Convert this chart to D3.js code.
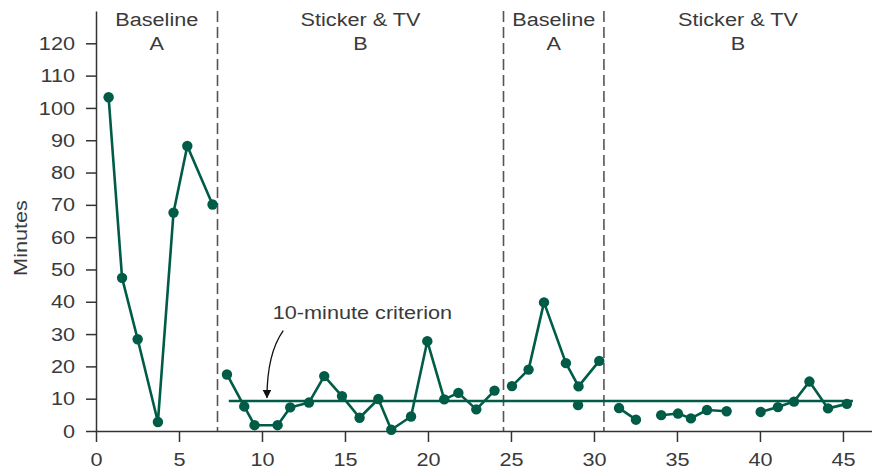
<!DOCTYPE html>
<html>
<head>
<meta charset="utf-8">
<script src="https://cdn.jsdelivr.net/npm/d3@7"></script>
<style>
    body { margin: 0; background: #fff; }
    text { font-family: "Liberation Sans", Arial, sans-serif; fill: #3a3a3a; }
</style>
</head>
<body>
<div id="chart"></div>
<script>
// Sessions (x) and minutes (y), one pair of arrays per connected run of points
let baseline1Sessions = [0.76, 1.57, 2.51, 3.73, 4.67, 5.50, 7.02];
let baseline1Minutes = [103.3, 47.4, 28.4, 2.8, 67.6, 88.2, 70.1];

let treatment1Sessions = [7.89, 8.93, 9.55, 10.94, 11.70, 12.83, 13.75, 14.82, 15.88, 17.01, 17.79, 18.98, 19.96, 20.98, 21.83, 22.91, 24.01];
let treatment1Minutes = [17.5, 7.6, 1.8, 1.8, 7.3, 8.8, 17.0, 10.8, 4.1, 9.9, 0.4, 4.5, 27.8, 9.8, 11.8, 6.7, 12.5];

let baseline2Sessions = [25.06, 26.06, 26.99, 28.31, 29.07, 30.32];
let baseline2Minutes = [13.9, 19.0, 39.8, 21.0, 13.8, 21.7];

// single unconnected point in the second baseline
let extraSessions = [29.04];
let extraMinutes = [8.0];

let treatment2aSessions = [31.51, 32.53];
let treatment2aMinutes = [7.1, 3.5];
let treatment2bSessions = [34.05, 35.06, 35.84, 36.81, 37.99];
let treatment2bMinutes = [4.9, 5.4, 3.9, 6.5, 6.1];
let treatment2cSessions = [40.04, 41.08, 42.05, 42.98, 44.10, 45.24];
let treatment2cMinutes = [5.9, 7.4, 9.1, 15.3, 7.0, 8.4];

// phase change lines and labels
let phaseLines = [7.32, 24.55, 30.6];
let phaseNames = ["Baseline", "Sticker & TV", "Baseline", "Sticker & TV"];
let phaseLetters = ["A", "B", "A", "B"];

// criterion line
let criterionValue = 9.3;
let criterionRange = [8.0, 45.6];

let xTicks = [0, 5, 10, 15, 20, 25, 30, 35, 40, 45];
let yTicks = [0, 10, 20, 30, 40, 50, 60, 70, 80, 90, 100, 110, 120];

let xMax = 46.75;
let yMax = 130;

let green = "#005c46";
let textColor = "#3a3a3a";
let fontSize = 19;
let stretch = 1.14;   // the original type is set wider than Liberation Sans

let width = 872, height = 471;

let svg = d3.select("#chart").append("svg")
    .attr("width", width)
    .attr("height", height);

let xScale = d3.scaleLinear().domain([0, xMax]).range([96, 872]);
let yScale = d3.scaleLinear().domain([0, yMax]).range([431, 11]);

function zip(xs, ys) {
    return xs.map(function (x, i) { return {x: x, y: ys[i]}; });
}

// place a text at (x, y), widened around its anchor point
function wideText(parent, str, x, y, rotate) {
    return parent.append("text")
        .text(str)
        .attr("transform", "translate(" + x + "," + y + ")" + (rotate ? " rotate(" + rotate + ")" : "") + " scale(" + stretch + ",1)")
        .attr("text-anchor", "middle")
        .attr("font-size", fontSize)
        .attr("fill", textColor);
}

let runs = [
    zip(baseline1Sessions, baseline1Minutes),
    zip(treatment1Sessions, treatment1Minutes),
    zip(baseline2Sessions, baseline2Minutes),
    zip(extraSessions, extraMinutes),
    zip(treatment2aSessions, treatment2aMinutes),
    zip(treatment2bSessions, treatment2bMinutes),
    zip(treatment2cSessions, treatment2cMinutes)
];

// Axes
let yAxis = d3.axisLeft(yScale)
    .tickValues(yTicks)
    .tickSize(10)
    .tickSizeOuter(0)
    .tickPadding(11);
let xAxis = d3.axisBottom(xScale)
    .tickValues(xTicks)
    .tickSize(11)
    .tickSizeOuter(0)
    .tickPadding(11);

let gy = svg.append("g")
    .attr("class", "y-axis")
    .attr("transform", "translate(" + xScale(0) + ",0)")
    .call(yAxis);
let gx = svg.append("g")
    .attr("class", "x-axis")
    .attr("transform", "translate(0," + yScale(0) + ")")
    .call(xAxis);

[gx, gy].forEach(function (g) {
    g.selectAll("path, line").attr("stroke", "#333").attr("stroke-width", 1.5);
    g.selectAll("text").attr("font-size", fontSize).attr("fill", textColor)
        .style("font-family", "Liberation Sans, Arial, sans-serif");
});

// widen tick labels around their anchors
gy.selectAll(".tick text")
    .attr("transform", function () {
        let x = +d3.select(this).attr("x");
        return "translate(" + x + ",0) scale(" + stretch + ",1) translate(" + (-x) + ",0)";
    });
gx.selectAll(".tick text")
    .attr("transform", "scale(" + stretch + ",1)");

wideText(svg, "Minutes", 27, 238, -90);

// Phase change lines
svg.append("g")
    .selectAll("line")
    .data(phaseLines)
    .enter().append("line")
    .attr("x1", function (d) { return xScale(d); })
    .attr("x2", function (d) { return xScale(d); })
    .attr("y1", yScale(yMax))
    .attr("y2", yScale(0))
    .attr("stroke", "#555")
    .attr("stroke-width", 1.6)
    .attr("stroke-dasharray", "11,5");

// Phase labels
let bounds = [0].concat(phaseLines).concat([xMax]);
let labelGroup = svg.append("g").attr("class", "phase-labels");
phaseNames.forEach(function (name, i) {
    let cx = (xScale(bounds[i]) + xScale(bounds[i + 1])) / 2;
    wideText(labelGroup, name, cx, 26);
    wideText(labelGroup, phaseLetters[i], cx, 50);
});

// Criterion line
svg.append("line")
    .attr("x1", xScale(criterionRange[0]))
    .attr("x2", xScale(criterionRange[1]))
    .attr("y1", yScale(criterionValue))
    .attr("y2", yScale(criterionValue))
    .attr("stroke", green)
    .attr("stroke-width", 2.6);

// Data lines and dots
let line = d3.line()
    .x(function (d) { return xScale(d.x); })
    .y(function (d) { return yScale(d.y); });

svg.append("g")
    .selectAll("path")
    .data(runs)
    .enter().append("path")
    .attr("d", line)
    .attr("fill", "none")
    .attr("stroke", green)
    .attr("stroke-width", 2.6)
    .attr("stroke-linejoin", "round");

svg.append("g")
    .selectAll("circle")
    .data(runs.flat())
    .enter().append("circle")
    .attr("cx", function (d) { return xScale(d.x); })
    .attr("cy", function (d) { return yScale(d.y); })
    .attr("r", 5.2)
    .attr("fill", green);

// Annotation: 10-minute criterion with a curved arrow
svg.append("defs").append("marker")
    .attr("id", "arrow")
    .attr("viewBox", "0 0 10 10")
    .attr("refX", 9)
    .attr("refY", 5)
    .attr("markerWidth", 9)
    .attr("markerHeight", 9)
    .attr("markerUnits", "userSpaceOnUse")
    .attr("orient", "auto")
    .append("path")
    .attr("d", "M0,0 L10,5 L0,10 Z")
    .attr("fill", "#111");

let arrowPath = d3.path();
arrowPath.moveTo(xScale(11.28), yScale(31.1));
arrowPath.quadraticCurveTo(xScale(10.3), yScale(24.0), xScale(10.3), yScale(10.3));
svg.append("path")
    .attr("d", arrowPath.toString())
    .attr("fill", "none")
    .attr("stroke", "#111")
    .attr("stroke-width", 1.3)
    .attr("marker-end", "url(#arrow)");

wideText(svg, "10-minute criterion", xScale(16.05), yScale(34.8));
</script>
</body>
</html>
